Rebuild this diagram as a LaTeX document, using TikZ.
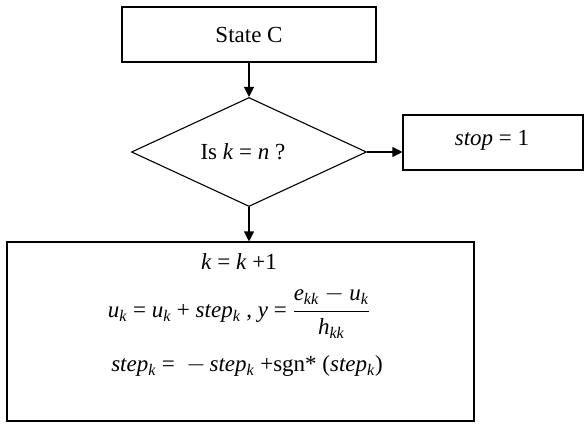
\documentclass[tikz,border=0pt]{standalone}
\usepackage{fontspec}
\usepackage{amsmath}
\setmainfont{Liberation Serif}
\usetikzlibrary{shapes.geometric,arrows.meta}
\newcommand{\mi}[1]{\textit{#1}}
\newcommand{\sbi}[1]{\textsubscript{\textit{#1}}}
\begin{document}
\begin{tikzpicture}[x=1pt,y=-1pt,
  every node/.style={font=\fontsize{23}{27}\selectfont},
  boxnode/.style={draw, line width=1.1pt, rectangle, inner sep=0pt},
  decision/.style={draw, line width=1.1pt, diamond, inner sep=0pt},
  txt/.style={inner sep=0pt, anchor=center},
  conn/.style={line width=1.1pt, -{Triangle[length=10pt,width=10pt]}}]
\useasboundingbox (0,0) rectangle (584,428);
\node[boxnode, minimum width=254pt, minimum height=55pt] (stateC) at (249,34.5) {State C};
\node[decision, minimum width=235pt, minimum height=109pt] (dec) at (249,152) {};
\node[txt] (dect) at (243,152) {Is \mi{k} = \mi{n} ?};
\node[boxnode, minimum width=180pt, minimum height=55pt] (stop) at (493,142.5) {};
\node[txt] (stopt) at (492,140) {\mi{stop} = 1};
\node[boxnode, minimum width=467pt, minimum height=179pt] (big) at (240.5,331.5) {};
\node[txt] (l1) at (239,262) {\mi{k} = \mi{k} +1};
\node[txt] (l2) at (239,312) {\mi{u}\sbi{k}\ = \mi{u}\sbi{k} + \mi{step}\sbi{k} ,\ \mi{y} = $\dfrac{\mi{e}\sbi{kk}-\mi{u}\sbi{k}}{\mi{h}\sbi{kk}}$};
\node[txt] (l3) at (247,366) {\mi{step}\sbi{k}\ = \ $-$\,\mi{step}\sbi{k} +sgn*\ (\mi{step}\sbi{k})};
\draw[conn] (stateC.south) -- (dec.north);
\draw[conn] (dec.east) -- (dec.east -| stop.west);
\draw[conn] (dec.south) -- (big.north -| dec.south);
\end{tikzpicture}
\end{document}
